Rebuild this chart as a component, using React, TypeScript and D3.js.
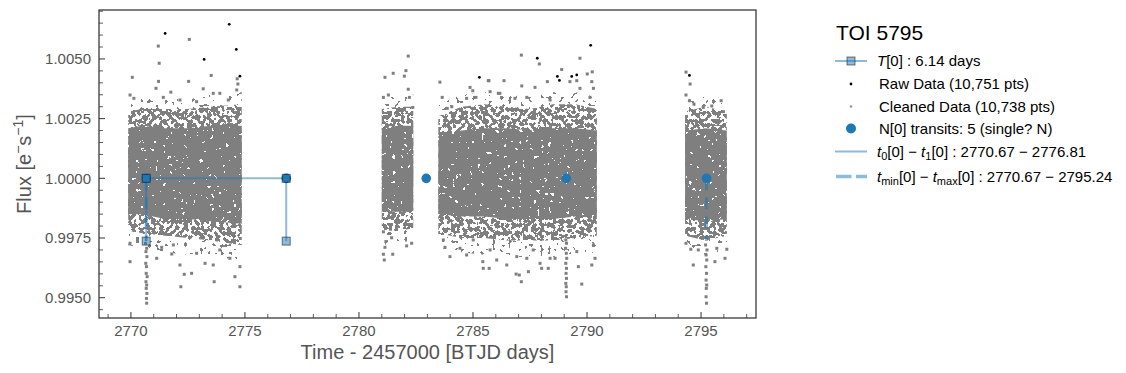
import * as d3 from 'd3';

const W = 1126;
const H = 373;

// plot frame
const plotLeft = 99;
const plotRight = 756;
const plotTop = 10;
const plotBottom = 318;

const xDomain = [2768.6, 2797.41];
const yDomain = [0.99415, 1.00705];

const xTickValues = [2770, 2775, 2780, 2785, 2790, 2795];
const yTickValues = [0.995, 0.9975, 1.0, 1.0025, 1.005];

// transit model
const transitTimes = [2770.67, 2776.81, 2782.95, 2789.09, 2795.24];
const periodMarkTimes = [2770.67, 2776.81];
const windowTimes = [2770.67, 2795.24];
const transitDepth = 0.99737;
const fluxBaseline = 1.0;

// dense part of each data chunk:
// [time, coreLo, coreHi, haloLo, haloHi, outerLo, outerHi]
const segment1 = [
  [2769.88, 0.9985, 1.0021, 0.9978, 1.0028, 0.9972, 1.0033],
  [2770.5, 0.9985, 1.0022, 0.9977, 1.0029, 0.9971, 1.0034],
  [2771.5, 0.9983, 1.0021, 0.9976, 1.0029, 0.9969, 1.0034],
  [2772.5, 0.9983, 1.0021, 0.9975, 1.0029, 0.9968, 1.0033],
  [2773.5, 0.9982, 1.0022, 0.9974, 1.003, 0.9967, 1.0035],
  [2774.86, 0.9981, 1.0022, 0.9972, 1.0031, 0.9966, 1.0036],
];
const segment2 = [
  [2781.0, 0.9986, 1.0021, 0.9978, 1.0029, 0.9972, 1.0034],
  [2781.7, 0.9986, 1.0022, 0.9978, 1.003, 0.9973, 1.0036],
  [2782.38, 0.9986, 1.0022, 0.9979, 1.003, 0.9974, 1.0035],
];
const segment3 = [
  [2783.48, 0.9985, 1.0018, 0.9977, 1.0026, 0.9971, 1.0031],
  [2784.5, 0.9984, 1.002, 0.9975, 1.003, 0.9969, 1.0035],
  [2785.5, 0.9984, 1.0021, 0.9975, 1.0031, 0.9968, 1.0036],
  [2786.5, 0.9983, 1.0021, 0.9974, 1.003, 0.9967, 1.0035],
  [2787.5, 0.9983, 1.002, 0.9974, 1.0029, 0.9967, 1.0034],
  [2788.5, 0.9983, 1.0021, 0.9974, 1.0031, 0.9967, 1.0036],
  [2789.5, 0.9984, 1.0021, 0.9975, 1.0031, 0.9968, 1.0036],
  [2790.43, 0.9984, 1.002, 0.9976, 1.0029, 0.9969, 1.0034],
];
const segment4 = [
  [2794.3, 0.9983, 1.002, 0.9976, 1.0028, 0.997, 1.0033],
  [2795.2, 0.9982, 1.0021, 0.9974, 1.003, 0.9968, 1.0035],
  [2796.13, 0.9983, 1.002, 0.9976, 1.0028, 0.997, 1.0033],
];

// sparse cleaned points outside the dense band: [time, flux]
const sparse1 = [
  [2771.2, 1.00554], [2771.24, 1.00482], [2772.56, 1.00582], [2770.06, 1.00423],
  [2771.21, 1.00406], [2772.53, 1.00406], [2773.52, 1.00431], [2774.66, 1.00417],
  [2774.69, 1.00395], [2769.96, 1.00349], [2770.13, 1.00335], [2771.1, 1.00377],
  [2771.75, 1.00361], [2773.17, 1.00375], [2773.61, 1.00356], [2773.9, 1.00356],
  [2774.27, 1.00328], [2774.64, 1.0037], [2771.42, 1.00339], [2772.15, 1.00328],
  [2772.88, 1.00321],
  [2769.96, 0.99728], [2769.96, 0.99651], [2771.35, 0.99711], [2771.13, 0.99665],
  [2771.79, 0.99683], [2772.15, 0.99637], [2772.34, 0.99598], [2772.19, 0.99546],
  [2772.66, 0.99602], [2773.25, 0.99644], [2773.61, 0.99637], [2773.65, 0.99567],
  [2774.34, 0.99665], [2774.56, 0.99588], [2774.78, 0.99546], [2774.78, 0.9963],
  [2773.9, 0.997], [2772.88, 0.99686], [2771.86, 0.99721],
];
const sparse2 = [
  [2782.16, 1.00512], [2782.06, 1.00451], [2781.99, 1.00428], [2781.5, 1.0044],
  [2781.14, 1.00423], [2782.16, 1.00373], [2782.21, 1.00339], [2781.07, 1.00339],
  [2781.29, 1.00349], [2782.36, 1.00297],
  [2781.07, 0.99776], [2781.18, 0.99735], [2781.14, 0.99711], [2781.07, 0.99682],
  [2781.11, 0.99658], [2781.48, 0.99682], [2781.43, 0.99751], [2782.09, 0.99717],
  [2782.31, 0.99728],
];
const sparse3 = [
  [2783.55, 1.00403], [2783.65, 1.00339], [2783.87, 1.00293], [2784.07, 1.003],
  [2784.87, 1.00381], [2784.99, 1.00367], [2784.72, 1.00335], [2785.7, 1.00409],
  [2785.75, 1.00363], [2785.13, 1.00339], [2786.11, 1.00356], [2787.12, 1.00516],
  [2787.91, 1.00479], [2789.69, 1.00503], [2786.36, 1.00409], [2785.67, 1.00409],
  [2788.89, 1.00456], [2789.25, 1.00405], [2789.55, 1.00409], [2790.01, 1.00437],
  [2790.23, 1.00446], [2790.21, 1.00405], [2790.28, 1.00377], [2788.26, 1.00405],
  [2787.72, 1.00381], [2787.14, 1.00387], [2786.84, 1.00335], [2787.36, 1.00339],
  [2788.38, 1.00328], [2789.69, 1.00377], [2790.13, 1.00339], [2786.18, 1.00356],
  [2783.7, 0.99742], [2783.77, 0.99711], [2783.99, 0.99672], [2784.43, 0.99707],
  [2784.72, 0.99679], [2785.01, 0.99742], [2785.43, 0.99651], [2785.45, 0.99623],
  [2785.71, 0.99623], [2785.75, 0.997], [2786.04, 0.99658], [2786.48, 0.99637],
  [2786.92, 0.99672], [2787.03, 0.99595], [2787.12, 0.99567], [2787.36, 0.99665],
  [2787.94, 0.99644], [2788.01, 0.99623], [2788.3, 0.99623], [2788.38, 0.99665],
  [2788.6, 0.99665], [2789.62, 0.9963], [2789.77, 0.99557], [2790.21, 0.99637],
  [2790.35, 0.99665], [2790.28, 0.99721], [2789.55, 0.99693], [2787.64, 0.997],
  [2787.43, 0.99609], [2786.89, 0.99599],
];
const sparse4 = [
  [2794.34, 1.00445], [2794.52, 1.00395], [2794.34, 1.00349], [2794.49, 1.00325],
  [2795.1, 1.00297], [2795.47, 1.00303], [2795.88, 1.00325], [2795.98, 1.00279],
  [2794.69, 1.00311],
  [2794.66, 0.99637], [2794.55, 0.99703], [2794.34, 0.99728], [2795.61, 0.99651],
  [2796.05, 0.99665], [2796.13, 0.99703], [2795.69, 0.99707], [2794.88, 0.997],
];

// in-transit points below the band
const dip1 = [
  [2770.64, 0.99728], [2770.69, 0.99707], [2770.66, 0.99693], [2770.7, 0.99672],
  [2770.65, 0.99644], [2770.68, 0.9963], [2770.67, 0.99602], [2770.71, 0.99588],
  [2770.66, 0.99567], [2770.69, 0.99553], [2770.67, 0.99539], [2770.7, 0.99518],
  [2770.68, 0.99497], [2770.69, 0.99477],
];
const dip3 = [
  [2789.07, 0.99742], [2789.1, 0.99728], [2789.06, 0.99707], [2789.09, 0.99686],
  [2789.11, 0.99665], [2789.07, 0.99644], [2789.1, 0.99623], [2789.08, 0.99602],
  [2789.1, 0.99581], [2789.07, 0.9956], [2789.09, 0.99546], [2789.08, 0.99525],
  [2789.1, 0.99504],
];
const dip5 = [
  [2795.2, 0.99721], [2795.26, 0.997], [2795.22, 0.99679], [2795.25, 0.99658],
  [2795.21, 0.9963], [2795.24, 0.99602], [2795.22, 0.99574], [2795.25, 0.99553],
  [2795.23, 0.99539], [2795.22, 0.99504], [2795.24, 0.99477],
];

// raw points that were removed by cleaning
const rawOnly = [
  [2771.5, 1.00607], [2774.31, 1.00645], [2774.62, 1.0054], [2773.21, 1.00498],
  [2774.78, 1.00428], [2785.28, 1.00423], [2787.82, 1.00503], [2788.7, 1.00427],
  [2788.79, 1.0041], [2789.33, 1.00427], [2789.55, 1.00433], [2790.16, 1.00557],
  [2794.49, 1.00431],
];

const BLUE = '#1f77b4';
const GRAY = '#7f7f7f';
const FONT = '"Liberation Sans", Arial, sans-serif';

// noise mask so the dense bands read as a scatter of points, not flat fills
function Speckle({ id, seed, freq, zeros }: { id: string; seed: number; freq: number; zeros: number }) {
  const table = d3.range(20).map(i => (i < zeros ? 0 : 1)).join(' ');
  return (
    <filter id={id} x="-2%" y="-2%" width="104%" height="104%" filterUnits="objectBoundingBox">
      <feTurbulence type="fractalNoise" baseFrequency={freq} numOctaves={1} seed={seed} result="noise" />
      <feColorMatrix in="noise" type="matrix"
        values="0 0 0 0 0  0 0 0 0 0  0 0 0 0 0  1 0 0 0 0" result="alpha" />
      <feComponentTransfer in="alpha" result="mask">
        <feFuncA type="discrete" tableValues={table} />
      </feComponentTransfer>
      <feComposite in="SourceGraphic" in2="mask" operator="in" />
    </filter>
  );
}

export default function App() {
  const x = d3.scaleLinear().domain(xDomain).range([plotLeft, plotRight]);
  const y = d3.scaleLinear().domain(yDomain).range([plotBottom, plotTop]);

  const band = (lo: number, hi: number) =>
    d3.area<number[]>().x(d => x(d[0])).y0(d => y(d[lo])).y1(d => y(d[hi]));
  const outerArea = band(5, 6);
  const haloArea = band(3, 4);
  const coreArea = band(1, 2);

  const segments = [segment1, segment2, segment3, segment4];
  const cleaned = [...sparse1, ...sparse2, ...sparse3, ...sparse4, ...dip1, ...dip3, ...dip5];

  const xMinor = d3.range(2769, 2798, 1).filter(v => v % 5 !== 0 && x(v) > plotLeft && x(v) < plotRight);
  const yMinor = d3.range(0, 27).map(i => +(0.9945 + i * 0.0005).toFixed(4))
    .filter(v => !yTickValues.some(t => Math.abs(t - v) < 1e-7) && y(v) > plotTop && y(v) < plotBottom);

  const periodLine = d3.line<number[]>().x(d => x(d[0])).y(d => y(d[1]))([
    [periodMarkTimes[0], transitDepth],
    [periodMarkTimes[0], fluxBaseline],
    [periodMarkTimes[1], fluxBaseline],
    [periodMarkTimes[1], transitDepth],
  ]);

  const lx = 835;
  const tx = 877;
  const rows = [61, 84, 106.5, 128.5, 151.5, 176.5];

  return (
    <div style={{ position: 'absolute', left: 0, top: 0 }}>
      <svg width={W} height={H} style={{ display: 'block', fontFamily: FONT }}>
        <defs>
          <Speckle id="speckOuter" seed={11} freq={0.25} zeros={13} />
          <Speckle id="speckHalo" seed={7} freq={0.25} zeros={10} />
          <Speckle id="speckCore" seed={3} freq={0.27} zeros={7} />
        </defs>
        <rect width={W} height={H} fill="#fff" />

        <g filter="url(#speckOuter)">
          {segments.map((s, i) => (
            <path key={'o' + i} d={outerArea(s) || ''} fill={GRAY} />
          ))}
        </g>
        <g filter="url(#speckHalo)">
          {segments.map((s, i) => (
            <path key={'h' + i} d={haloArea(s) || ''} fill={GRAY} />
          ))}
        </g>
        <g filter="url(#speckCore)">
          {segments.map((s, i) => (
            <path key={'c' + i} d={coreArea(s) || ''} fill={GRAY} />
          ))}
        </g>
        {cleaned.map((d, i) => (
          <rect key={'p' + i} x={x(d[0]) - 1.5} y={y(d[1]) - 1.5} width={3} height={3} fill={GRAY} />
        ))}
        {rawOnly.map((d, i) => (
          <circle key={'r' + i} cx={x(d[0])} cy={y(d[1])} r={1.4} fill="#000" />
        ))}

        {/* search window */}
        {windowTimes.map((t, i) => (
          <line key={'w' + i} x1={x(t)} x2={x(t)} y1={y(fluxBaseline)} y2={y(transitDepth)}
            stroke={BLUE} strokeOpacity={0.5} strokeWidth={3} strokeDasharray="12 7" />
        ))}
        {transitTimes.map((t, i) => (
          <circle key={'t' + i} cx={x(t)} cy={y(fluxBaseline)} r={4.8} fill={BLUE} />
        ))}
        <path d={periodLine || ''} fill="none" stroke={BLUE} strokeOpacity={0.5} strokeWidth={2} />
        {periodMarkTimes.flatMap((t, i) => [fluxBaseline, transitDepth].map((f, j) => (
          <rect key={'m' + i + j} x={x(t) - 4} y={y(f) - 4} width={8} height={8}
            fill={BLUE} fillOpacity={0.5} stroke="#000" strokeOpacity={0.5} strokeWidth={1} />
        )))}

        {/* ticks */}
        {xTickValues.map(v => (
          <g key={'xt' + v}>
            <line x1={x(v)} x2={x(v)} y1={plotBottom} y2={plotBottom - 6} stroke="#333" strokeWidth={1} />
            <text x={x(v)} y={336} textAnchor="middle" fontSize={15} fill="#555">{v}</text>
          </g>
        ))}
        {xMinor.map(v => (
          <line key={'xm' + v} x1={x(v)} x2={x(v)} y1={plotBottom} y2={plotBottom - 4} stroke="#333" strokeWidth={0.8} />
        ))}
        {yTickValues.map(v => (
          <g key={'yt' + v}>
            <line x1={plotLeft} x2={plotLeft + 6} y1={y(v)} y2={y(v)} stroke="#333" strokeWidth={1} />
            <text x={91} y={y(v) + 5.3} textAnchor="end" fontSize={15} fill="#555">{d3.format('.4f')(v)}</text>
          </g>
        ))}
        {yMinor.map(v => (
          <line key={'ym' + v} x1={plotLeft} x2={plotLeft + 4} y1={y(v)} y2={y(v)} stroke="#333" strokeWidth={0.8} />
        ))}

        <rect x={plotLeft} y={plotTop} width={plotRight - plotLeft} height={plotBottom - plotTop}
          fill="none" stroke="#333" strokeWidth={1.25} />

        <text x={(plotLeft + plotRight) / 2} y={359} textAnchor="middle" fontSize={20} fill="#555">
          Time - 2457000 [BTJD days]
        </text>
        <text transform={`translate(30.5,${(plotTop + plotBottom) / 2}) rotate(-90)`} textAnchor="middle" fontSize={20} fill="#555">
          Flux [e<tspan dy={-8} fontSize={14}>−</tspan><tspan dy={8}>s</tspan><tspan dy={-8} fontSize={14}>−1</tspan><tspan dy={8}>]</tspan>
        </text>

        {/* legend */}
        <text x={836} y={40} fontSize={21} fill="#000">TOI 5795</text>
        <line x1={lx} x2={lx + 32} y1={rows[0]} y2={rows[0]} stroke={BLUE} strokeOpacity={0.5} strokeWidth={2} />
        <rect x={lx + 12} y={rows[0] - 4} width={8} height={8} fill={BLUE} fillOpacity={0.5} stroke="#000" strokeOpacity={0.5} />
        <circle cx={lx + 16} cy={rows[1]} r={1.4} fill="#000" />
        <circle cx={lx + 16} cy={rows[2]} r={1.3} fill="#999" />
        <circle cx={lx + 16} cy={rows[3]} r={5} fill={BLUE} />
        <line x1={lx} x2={lx + 32} y1={rows[4]} y2={rows[4]} stroke={BLUE} strokeOpacity={0.5} strokeWidth={2} />
        <line x1={lx + 1} x2={lx + 32} y1={rows[5]} y2={rows[5]} stroke={BLUE} strokeOpacity={0.5} strokeWidth={3.5} strokeDasharray="15.5 4.5" />

        <g fontSize={15} fill="#000">
          <text x={tx} y={rows[0] + 5.3}>
            <tspan fontStyle="italic">T</tspan>[0] : 6.14 days
          </text>
          <text x={tx + 2} y={rows[1] + 5.3}>Raw Data (10,751 pts)</text>
          <text x={tx + 2} y={rows[2] + 5.3}>Cleaned Data (10,738 pts)</text>
          <text x={tx + 2} y={rows[3] + 5.3}>N[0] transits: 5 (single? N)</text>
          <text x={tx} y={rows[4] + 5.3}>
            <tspan fontStyle="italic">t</tspan><tspan dy={3} fontSize={11}>0</tspan><tspan dy={-3}>[0] − </tspan>
            <tspan fontStyle="italic">t</tspan><tspan dy={3} fontSize={11}>1</tspan><tspan dy={-3}>[0] : 2770.67 − 2776.81</tspan>
          </text>
          <text x={tx} y={rows[5] + 5.3}>
            <tspan fontStyle="italic">t</tspan><tspan dy={3} fontSize={11}>min</tspan><tspan dy={-3}>[0] − </tspan>
            <tspan fontStyle="italic">t</tspan><tspan dy={3} fontSize={11}>max</tspan><tspan dy={-3}>[0] : 2770.67 − 2795.24</tspan>
          </text>
        </g>
      </svg>
    </div>
  );
}
